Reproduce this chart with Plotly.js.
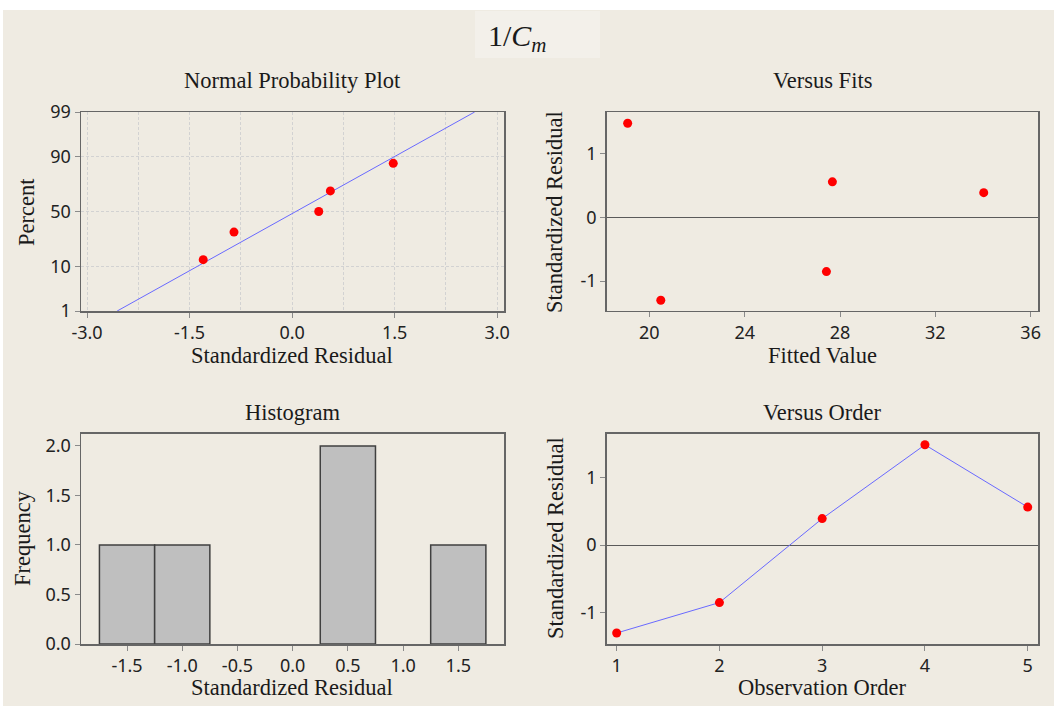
<!DOCTYPE html>
<html>
<head>
<meta charset="utf-8">
<script src="https://cdn.plot.ly/plotly-3.0.1.min.js"></script>
<style>
  html, body { margin: 0; padding: 0; background: #ffffff; }
  #chart { width: 1054px; height: 709px; }
</style>
</head>
<body>
<div id="chart"></div>
<script>
// Residual diagnostics for 1/Cm (five observations)
const observationOrder = [1, 2, 3, 4, 5];
const standardizedResidual = [-1.30, -0.85, 0.39, 1.48, 0.56];
const fittedValue = [20.48, 27.43, 34.03, 19.09, 27.68];

// Normal probability plot: sorted residuals and their plotting percents
const nppResidual = [-1.30, -0.85, 0.39, 0.56, 1.48];
const nppPercent = [13.0, 31.5, 50.0, 68.5, 87.0];
const percentTicks = [1, 10, 50, 90, 99];

// Histogram bins
const histBinStart = -1.75;
const histBinEnd = 1.75;
const histBinSize = 0.5;

// inverse standard normal CDF (Acklam's approximation) used for the probability axis
function normInv(p) {
  const a = [-3.969683028665376e+01, 2.209460984245205e+02, -2.759285104469687e+02,
             1.383577518672690e+02, -3.066479806614716e+01, 2.506628277459239e+00];
  const b = [-5.447609879822406e+01, 1.615858368580409e+02, -1.556989798598866e+02,
             6.680131188771972e+01, -1.328068155288572e+01];
  const c = [-7.784894002430293e-03, -3.223964580411365e-01, -2.400758277161838e+00,
             -2.549732539343734e+00, 4.374664141464968e+00, 2.938163982698783e+00];
  const d = [7.784695709041462e-03, 3.224671290700398e-01, 2.445134137142996e+00,
             3.754408661907416e+00];
  const plow = 0.02425, phigh = 1 - plow;
  let q, r;
  if (p < plow) {
    q = Math.sqrt(-2 * Math.log(p));
    return (((((c[0]*q + c[1])*q + c[2])*q + c[3])*q + c[4])*q + c[5]) /
           ((((d[0]*q + d[1])*q + d[2])*q + d[3])*q + 1);
  }
  if (p <= phigh) {
    q = p - 0.5; r = q * q;
    return (((((a[0]*r + a[1])*r + a[2])*r + a[3])*r + a[4])*r + a[5]) * q /
           (((((b[0]*r + b[1])*r + b[2])*r + b[3])*r + b[4])*r + 1);
  }
  q = Math.sqrt(-2 * Math.log(1 - p));
  return -(((((c[0]*q + c[1])*q + c[2])*q + c[3])*q + c[4])*q + c[5]) /
          ((((d[0]*q + d[1])*q + d[2])*q + d[3])*q + 1);
}
const zOf = pct => normInv(pct / 100);

// fitted normal line from the residuals' mean and standard deviation
const n = standardizedResidual.length;
const mean = standardizedResidual.reduce((s, v) => s + v, 0) / n;
const sd = Math.sqrt(standardizedResidual.reduce((s, v) => s + (v - mean) ** 2, 0) / (n - 1));
const lineZ = [zOf(percentTicks[0]), zOf(percentTicks[percentTicks.length - 1])];
const lineX = lineZ.map(z => mean + z * sd);

const W = 1054, H = 709;
const px = x => x / W;
const py = y => 1 - y / H;

const SERIF = 'Liberation Serif, Times New Roman, serif';
const SANS = 'Noto Sans, Open Sans, sans-serif';
const BG = '#efebe2';
const RED = '#ff0000';
const BLUE = 'rgb(105,105,255)';
const FRAME = '#666666';

const baseAxis = {
  showline: true, linecolor: FRAME, linewidth: 1.5, mirror: true,
  ticks: 'outside', ticklen: 5, tickwidth: 1, tickcolor: '#8a8a8a',
  tickfont: { family: SANS, size: 18, color: '#222' },
  showgrid: false, zeroline: false, fixedrange: true
};

const traces = [
  // normal probability plot
  { x: lineX, y: lineZ, xaxis: 'x', yaxis: 'y', mode: 'lines',
    line: { color: BLUE, width: 1 }, hoverinfo: 'skip' },
  { x: nppResidual, y: nppPercent.map(zOf), xaxis: 'x', yaxis: 'y', mode: 'markers',
    marker: { color: RED, size: 9 } },
  // versus fits
  { x: fittedValue, y: standardizedResidual, xaxis: 'x2', yaxis: 'y2', mode: 'markers',
    marker: { color: RED, size: 9 } },
  // histogram
  { x: standardizedResidual, type: 'histogram', xaxis: 'x3', yaxis: 'y3',
    xbins: { start: histBinStart, end: histBinEnd, size: histBinSize },
    marker: { color: '#bfbfbf', line: { color: '#404040', width: 1.5 } } },
  // versus order
  { x: observationOrder, y: standardizedResidual, xaxis: 'x4', yaxis: 'y4', mode: 'lines+markers',
    line: { color: BLUE, width: 1 }, marker: { color: RED, size: 9 } }
];

const gridDash = { showgrid: true, gridcolor: '#d2d2d2', griddash: '3px,2px', gridwidth: 1 };

const layout = {
  width: W, height: H,
  margin: { l: 0, r: 0, t: 0, b: 0 },
  paper_bgcolor: '#ffffff', plot_bgcolor: '#ffffff',
  showlegend: false,
  bargap: 0,
  xaxis: Object.assign({}, baseAxis, gridDash, {
    domain: [px(81), px(504)], anchor: 'y', range: [-3.088, 3.10],
    tickvals: [-3, -1.5, 0, 1.5, 3], ticktext: ['-3.0', '-1.5', '0.0', '1.5', '3.0'],
    minor: { tickvals: [-2.25, -0.75, 0.75, 2.25], showgrid: true, gridcolor: '#d2d2d2', griddash: '3px,2px', ticks: '' }
  }),
  yaxis: Object.assign({}, baseAxis, gridDash, {
    domain: [py(311), py(112)], anchor: 'x', range: [zOf(1), zOf(99)],
    tickvals: percentTicks.map(zOf), ticktext: percentTicks.map(String)
  }),
  xaxis2: Object.assign({}, baseAxis, {
    domain: [px(606.7), px(1038.3)], anchor: 'y2', range: [18.21, 36.32],
    tickvals: [20, 24, 28, 32, 36]
  }),
  yaxis2: Object.assign({}, baseAxis, {
    domain: [py(310.7), py(112)], anchor: 'x2', range: [-1.464, 1.657],
    tickvals: [-1, 0, 1], ticktext: ['-1', '0', '1'],
    zeroline: true, zerolinecolor: '#5a5a5a', zerolinewidth: 1
  }),
  xaxis3: Object.assign({}, baseAxis, {
    domain: [px(81), px(504)], anchor: 'y3', range: [-1.917, 1.914],
    tickvals: [-1.5, -1, -0.5, 0, 0.5, 1, 1.5],
    ticktext: ['-1.5', '-1.0', '-0.5', '0.0', '0.5', '1.0', '1.5']
  }),
  yaxis3: Object.assign({}, baseAxis, {
    domain: [py(644), py(433.7)], anchor: 'x3', range: [0, 2.124],
    tickvals: [0, 0.5, 1, 1.5, 2], ticktext: ['0.0', '0.5', '1.0', '1.5', '2.0']
  }),
  xaxis4: Object.assign({}, baseAxis, {
    domain: [px(606.7), px(1038.3)], anchor: 'y4', range: [0.903, 5.103],
    tickvals: observationOrder
  }),
  yaxis4: Object.assign({}, baseAxis, {
    domain: [py(644), py(433.7)], anchor: 'x4', range: [-1.462, 1.644],
    tickvals: [-1, 0, 1], ticktext: ['-1', '0', '1'],
    zeroline: true, zerolinecolor: '#5a5a5a', zerolinewidth: 1
  }),
  shapes: [
    { type: 'rect', xref: 'paper', yref: 'paper', layer: 'below',
      x0: px(3), x1: px(1054), y0: py(706), y1: py(10),
      fillcolor: BG, line: { width: 0 } },
    { type: 'rect', xref: 'paper', yref: 'paper', layer: 'below',
      x0: px(475), x1: px(600), y0: py(58), y1: py(11),
      fillcolor: '#f3f0ea', line: { width: 0 } }
  ],
  annotations: []
};

function label(text, x, y, size, angle) {
  layout.annotations.push({
    text: text, xref: 'paper', yref: 'paper', x: px(x), y: py(y),
    xanchor: 'center', yanchor: 'middle', showarrow: false, textangle: angle || 0,
    font: { family: SERIF, size: size, color: '#1a1a1a' }
  });
}

// main title
label('1/<i>C</i><sub><i>m</i></sub>', 517, 38, 30);
// panel titles
label('Normal Probability Plot', 292, 80, 22.5);
label('Versus Fits', 822, 80, 22.5);
label('Histogram', 292, 412, 22.5);
label('Versus Order', 822, 412, 22.5);
// axis titles
label('Standardized Residual', 292, 355, 22.5);
label('Fitted Value', 822, 355, 22.5);
label('Standardized Residual', 292, 687, 22.5);
label('Observation Order', 822, 687, 22.5);
label('Percent', 27, 212, 22.5, -90);
label('Standardized Residual', 555, 212, 22.5, -90);
label('Frequency', 22, 538, 22.5, -90);
label('Standardized Residual', 555, 538, 22.5, -90);

Plotly.newPlot('chart', traces, layout, { displayModeBar: false, staticPlot: true });
</script>
</body>
</html>
